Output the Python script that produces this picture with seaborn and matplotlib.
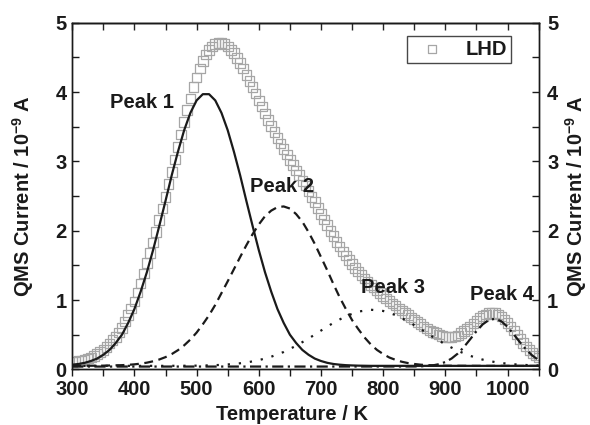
import matplotlib
matplotlib.use("Agg")
import matplotlib.pyplot as plt
import seaborn as sns
import pandas as pd

# ---------------- data ----------------
temps_lhd = list(range(300, 1055, 5))
lhd = [
    0.11, 0.115, 0.12, 0.13, 0.14, 0.155, 0.17, 0.19, 0.22, 0.25,   # 300-345
    0.28, 0.32, 0.37, 0.42, 0.47, 0.53, 0.60, 0.69, 0.78, 0.88,     # 350-395
    0.98, 1.11, 1.24, 1.38, 1.53, 1.68, 1.83, 1.98, 2.15, 2.32,     # 400-445
    2.49, 2.67, 2.85, 3.03, 3.21, 3.39, 3.57, 3.74, 3.91, 4.07,     # 450-495
    4.21, 4.34, 4.45, 4.54, 4.61, 4.66, 4.69, 4.71, 4.71, 4.69,     # 500-545
    4.66, 4.61, 4.56, 4.49, 4.42, 4.34, 4.25, 4.16, 4.07, 3.98,     # 550-595
    3.88, 3.79, 3.69, 3.60, 3.51, 3.42, 3.34, 3.26, 3.18, 3.10,     # 600-645
    3.02, 2.95, 2.87, 2.80, 2.72, 2.65, 2.57, 2.49, 2.41, 2.33,     # 650-695
    2.24, 2.16, 2.08, 2.00, 1.92, 1.84, 1.77, 1.70, 1.64, 1.58,     # 700-745
    1.52, 1.46, 1.41, 1.36, 1.31, 1.26, 1.22, 1.18, 1.14, 1.10,     # 750-795
    1.06, 1.02, 0.99, 0.95, 0.92, 0.88, 0.85, 0.81, 0.78, 0.75,     # 800-845
    0.72, 0.68, 0.65, 0.62, 0.59, 0.56, 0.54, 0.52, 0.50, 0.48,     # 850-895
    0.47, 0.465, 0.47, 0.475, 0.49, 0.52, 0.55, 0.58, 0.62, 0.66,   # 900-945
    0.70, 0.74, 0.77, 0.79, 0.81, 0.815, 0.81, 0.79, 0.76, 0.72,    # 950-995
    0.67, 0.62, 0.56, 0.50, 0.44, 0.38, 0.33, 0.28, 0.24, 0.20,     # 1000-1045
    0.17,                                                           # 1050
]

t_peak1 = [300, 310, 320, 330, 340, 350, 360, 370, 380, 390,
           400, 410, 420, 430, 440, 450, 460, 470, 480, 490,
           500, 510, 520, 530, 540, 550, 560, 570, 580, 590,
           600, 610, 620, 630, 640, 650, 660, 670, 680, 690,
           700, 710, 720, 730, 740, 750, 760, 780, 850, 950, 1050]
peak1 = [0.067, 0.077, 0.094, 0.12, 0.155, 0.21, 0.28, 0.38, 0.50, 0.67,
         0.87, 1.12, 1.40, 1.72, 2.07, 2.43, 2.80, 3.14, 3.45, 3.70,
         3.88, 3.97, 3.97, 3.88, 3.70, 3.45, 3.14, 2.80, 2.43, 2.07,
         1.72, 1.40, 1.12, 0.87, 0.67, 0.50, 0.38, 0.28, 0.21, 0.155,
         0.12, 0.094, 0.077, 0.067, 0.06, 0.056, 0.053, 0.05, 0.05, 0.05, 0.05]

t_peak2 = [300, 350, 380, 390,
           400, 410, 420, 430, 440, 450, 460, 470, 480, 490,
           500, 510, 520, 530, 540, 550, 560, 570, 580, 590,
           600, 610, 620, 630, 640, 650, 660, 670, 680, 690,
           700, 710, 720, 730, 740, 750, 760, 770, 780, 790,
           800, 810, 820, 830, 840, 850, 860, 870, 880,
           900, 950, 1050]
peak2 = [0.05, 0.053, 0.06, 0.065,
         0.072, 0.082, 0.096, 0.116, 0.142, 0.176, 0.22, 0.276, 0.346, 0.43,
         0.53, 0.65, 0.78, 0.93, 1.10, 1.27, 1.445, 1.62, 1.79, 1.95,
         2.09, 2.21, 2.29, 2.34, 2.35, 2.32, 2.24, 2.13, 1.98, 1.81,
         1.62, 1.43, 1.23, 1.04, 0.87, 0.71, 0.58, 0.46, 0.36, 0.28,
         0.22, 0.17, 0.136, 0.109, 0.09, 0.077, 0.067, 0.061, 0.057,
         0.052, 0.05, 0.05]

t_peak3 = [300, 400, 450, 480,
           500, 520, 540, 560, 580, 600, 620, 640, 660, 680,
           700, 720, 740, 760, 780, 800, 820, 840, 860, 880,
           900, 920, 940, 960, 980, 1000, 1020, 1040, 1050]
peak3 = [0.05, 0.05, 0.05, 0.0515,
         0.053, 0.057, 0.064, 0.077, 0.098, 0.132, 0.182, 0.25, 0.34, 0.444,
         0.559, 0.671, 0.767, 0.833, 0.86, 0.842, 0.783, 0.692, 0.582, 0.467,
         0.359, 0.267, 0.194, 0.14, 0.104, 0.08, 0.066, 0.058, 0.056]

t_peak4 = [300, 500, 700, 850,
           860, 870, 880, 890, 900, 910, 920, 930, 940, 950,
           960, 970, 980, 990, 1000, 1010, 1020, 1030, 1040, 1050]
peak4 = [0.04, 0.04, 0.04, 0.041,
         0.043, 0.048, 0.057, 0.075, 0.106, 0.156, 0.228, 0.324, 0.435, 0.55,
         0.649, 0.713, 0.729, 0.693, 0.6125, 0.505, 0.389, 0.283, 0.197, 0.133]

peak_labels = ["Peak 1", "Peak 2", "Peak 3", "Peak 4"]
label_x = [361, 586, 765, 939]
label_y = [3.77, 2.56, 1.10, 1.00]

x_ticks = [300, 400, 500, 600, 700, 800, 900, 1000]
y_ticks = [0, 1, 2, 3, 4, 5]

# ---------------- style ----------------
sns.set_style("ticks")
plt.rcParams["font.family"] = ["Liberation Sans", "DejaVu Sans"]
plt.rcParams["font.weight"] = "bold"
plt.rcParams["axes.labelweight"] = "bold"
plt.rcParams["mathtext.fontset"] = "custom"
plt.rcParams["mathtext.rm"] = "Liberation Sans:bold"
plt.rcParams["mathtext.bf"] = "Liberation Sans:bold"
plt.rcParams["mathtext.it"] = "Liberation Sans:bold"
plt.rcParams["axes.linewidth"] = 1.0

FS = 14.5
INK = "#1a1a1a"
SQ = "#a6a6a6"

fig = plt.figure(figsize=(5.9, 4.25), dpi=100)
ax = fig.add_axes([0.1224, 0.131, 0.7906, 0.8154])

lhd_df = pd.DataFrame({"T": temps_lhd, "I": lhd})
sns.scatterplot(data=lhd_df, x="T", y="I", ax=ax, marker="s", s=48,
                color=SQ, facecolor="none", edgecolor=SQ,
                linewidth=0.9, label="LHD", zorder=2, legend=False)

lw = 1.6
sns.lineplot(x=t_peak1, y=peak1, ax=ax, color=INK, lw=lw, linestyle="-", zorder=3)
sns.lineplot(x=t_peak2, y=peak2, ax=ax, color=INK, lw=lw, linestyle=(0, (4, 2.5)), zorder=3)
sns.lineplot(x=t_peak3, y=peak3, ax=ax, color=INK, lw=lw, linestyle=(0, (1, 4)), zorder=3)
sns.lineplot(x=t_peak4, y=peak4, ax=ax, color=INK, lw=lw, linestyle=(0, (5, 2, 1, 2)), zorder=3)

for txt, xx, yy in zip(peak_labels, label_x, label_y):
    ax.text(xx, yy, txt, fontsize=FS, fontweight="bold", color=INK,
            ha="left", va="baseline", zorder=4)

ax.set_xlim(300, 1050)
ax.set_ylim(0, 5)
ax.set_xticks(x_ticks)
ax.set_xticks([350, 450, 550, 650, 750, 850, 950, 1050], minor=True)
ax.set_yticks(y_ticks)
ax.set_yticks([0.5, 1.5, 2.5, 3.5, 4.5], minor=True)
ax.tick_params(axis="x", which="both", direction="out", length=5, width=1,
               top=False, labelsize=FS, pad=3, colors=INK)
ax.tick_params(axis="y", which="both", direction="in", length=5, width=1,
               right=False, labelsize=FS, pad=4, colors=INK)

ax.set_xlabel("Temperature / K", fontsize=FS, fontweight="bold", color=INK)
ax.xaxis.set_label_coords(0.4705, -0.103)
ax.set_ylabel(r"QMS Current / 10$^{\mathbf{-9}}$ A", fontsize=FS, fontweight="bold", color=INK)
ax.yaxis.set_label_coords(-0.078, 0.5)

sec = ax.secondary_xaxis("top")
sec.set_xticks(list(range(300, 1051, 50)))
sec.tick_params(axis="x", direction="in", length=5, width=1, labeltop=False)
sec.spines["top"].set_linewidth(1.0)

ax2 = ax.twinx()
ax2.set_ylim(0, 5)
ax2.set_yticks(y_ticks)
ax2.set_yticks([0.5, 1.5, 2.5, 3.5, 4.5], minor=True)
ax2.tick_params(axis="y", which="both", direction="in", length=5, width=1,
                labelsize=FS, pad=6, colors=INK)
ax2.set_ylabel(r"QMS Current / 10$^{\mathbf{-9}}$ A", fontsize=FS, fontweight="bold", color=INK)
ax2.yaxis.set_label_coords(1.052, 0.5)

for a in (ax, ax2):
    for sp in a.spines.values():
        sp.set_color(INK)
        sp.set_linewidth(1.0)

handles, labels = ax.get_legend_handles_labels()
leg = ax.legend(handles[:1], labels[:1], loc="upper right",
                bbox_to_anchor=(0.9406, 0.963), frameon=True, fancybox=False,
                fontsize=FS, handlelength=2.1, handletextpad=0.6,
                borderpad=0.2, borderaxespad=0.0, markerscale=0.8)
leg.get_frame().set_edgecolor(INK)
leg.get_frame().set_linewidth(1.0)
for t in leg.get_texts():
    t.set_fontweight("bold")
    t.set_color(INK)

fig.savefig("out.png", dpi=100)
